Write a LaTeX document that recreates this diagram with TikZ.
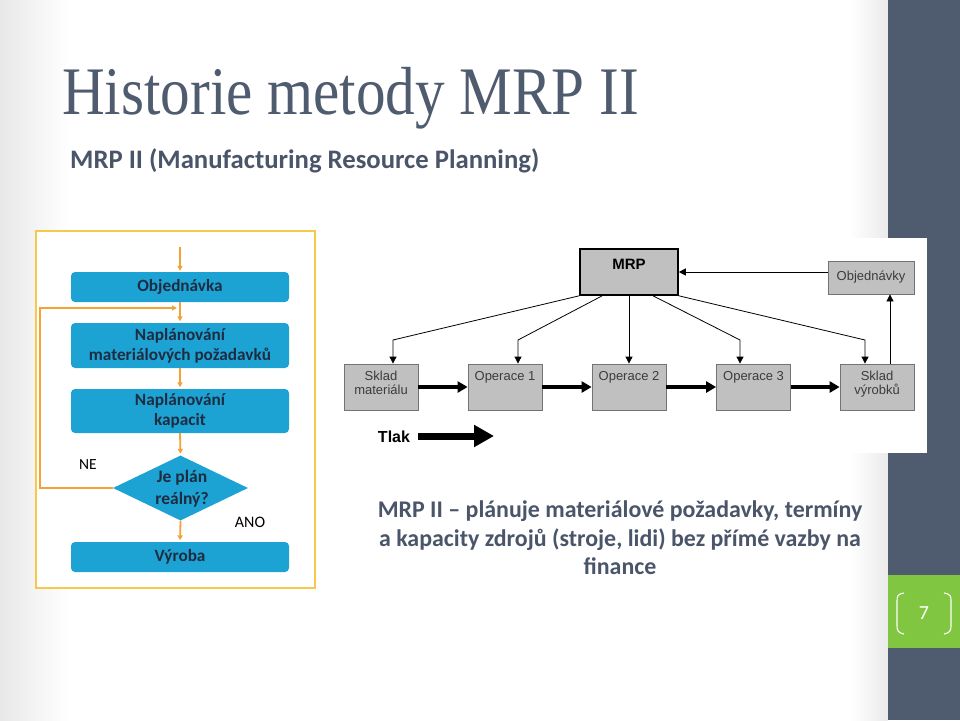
\documentclass[tikz,border=0pt]{standalone}
\usepackage{fontspec}
\setmainfont{Carlito}
\newfontfamily\titlefont{Liberation Serif}
\newfontfamily\arialfont{Liberation Sans}
\usetikzlibrary{arrows.meta,shapes.geometric}
\definecolor{slate}{HTML}{4F5B6E}
\definecolor{slatetext}{HTML}{4A5569}
\definecolor{fblue}{HTML}{1CA3D4}
\definecolor{ftext}{HTML}{1E2B40}
\definecolor{oarr}{HTML}{F4A236}
\definecolor{ybord}{HTML}{F7C84A}
\definecolor{lgreen}{HTML}{80C641}
\definecolor{boxgray}{HTML}{C0C0C0}
\definecolor{boxtext}{HTML}{3C3C3C}
\tikzset{
  flowbox/.style={rectangle, rounded corners=4pt, fill=fblue, text=ftext,
    font=\bfseries\fontsize{17.2}{20}\selectfont, align=center,
    minimum width=218pt, inner sep=0pt},
  oarrow/.style={draw=oarr, line width=1.8pt, -{Triangle[length=5pt,width=5pt]}},
  graybox/.style={rectangle, fill=boxgray, draw=black!55, line width=0.8pt,
    text=boxtext, font=\arialfont\fontsize{13}{14}\selectfont, align=center,
    minimum width=74pt, minimum height=46pt, inner xsep=1pt, inner ysep=0pt},
  onel/.style={text depth=23pt},
  twol/.style={text depth=9pt},
  thinarr/.style={draw=black, line width=0.8pt, -{Triangle[length=7pt,width=7pt]}},
  thickarr/.style={draw=black, line width=3.5pt, -{Triangle[length=10pt,width=11pt]}},
}
\begin{document}
\begin{tikzpicture}[x=1pt,y=-1pt]
\useasboundingbox (0,0) rectangle (960,720);
% background
\fill[white] (0,0) rectangle (960,720);
\shade[left color=black!9, right color=white] (0,0) rectangle (70,720);
\shade[left color=white, right color=black!8] (850,0) rectangle (888,720);
\fill[slate] (888,0) rectangle (960,720);
\fill[lgreen] (888,575) rectangle (960,648);
% page number
\node[text=white, font=\fontsize{20}{22}\selectfont] (pnum) at (924,613) {7};
\draw[white, line width=1.1pt] (904,593) .. controls (897,594) and (897,597) .. (897,601) -- (897,626) .. controls (897,630) and (898,633) .. (904,634);
\draw[white, line width=1.1pt] (944,593) .. controls (951,594) and (951,597) .. (951,601) -- (951,626) .. controls (951,630) and (950,633) .. (944,634);
% title
\node[anchor=base west, inner sep=0pt, text=slate, font=\titlefont\fontsize{68}{70}\selectfont] (title) at (62,114) {\scalebox{0.87}[1]{Historie metody MRP II}};
\node[anchor=base west, inner sep=0pt, text=slatetext, font=\bfseries\fontsize{26.7}{30}\selectfont] (sub) at (70,168) {MRP II (Manufacturing Resource Planning)};
% ---------- flowchart ----------
\draw[ybord, line width=1.5pt, fill=white] (36,231) rectangle (315,588);
\node[flowbox, minimum height=30pt] (obj) at (180,287) {Objednávka};
\node[flowbox, minimum height=45pt] (mat) at (180,345.5) {Naplánování\\materiálových požadavků};
\node[flowbox, minimum height=44pt] (kap) at (180,411) {Naplánování\\kapacit};
\node[diamond, fill=fblue, minimum width=135pt, minimum height=65pt, inner sep=0pt] (dec) at (180.5,488) {};
\node[text=ftext, font=\bfseries\fontsize{17.5}{22}\selectfont, align=center, inner sep=0pt] (dectext) at (182,489) {Je plán\\reálný?};
\node[flowbox, minimum height=30pt] (vyr) at (180,557) {Výroba};
\coordinate (start) at (180,247);
\coordinate (loopin) at (177,308);
\coordinate (nebend) at (40,308);
\draw[oarrow, shorten >=1pt] (start) -- (obj.north);
\draw[oarrow, shorten >=1.5pt] (obj.south) -- (mat.north);
\draw[oarrow, shorten >=1.5pt] (mat.south) -- (kap.north);
\draw[oarrow, shorten >=1.5pt] (kap.south) -- (dec.north);
\draw[oarrow, shorten >=1.5pt] (dec.south) -- (vyr.north);
\draw[oarrow] (dec.west) -| (nebend) -- (loopin);
\node[font=\fontsize{15.5}{17}\selectfont, text=black] (ne) at (88,465) {NE};
\node[font=\fontsize{16}{18}\selectfont, text=black] (ano) at (250,522) {ANO};
% ---------- right diagram ----------
\fill[white] (340,238) rectangle (927,453);
\node[rectangle, fill=boxgray, draw=black, line width=1.6pt, minimum width=98pt, minimum height=46pt,
  inner sep=0pt, text height=20pt, text depth=26pt,
  font=\arialfont\bfseries\fontsize{15}{17}\selectfont] (mrp) at (629,272) {MRP};
\node[graybox, minimum width=86pt, minimum height=33pt, text height=9pt, text depth=3pt] (objd) at (871,277.5) {Objednávky};
\node[graybox, twol] (skm) at (381,387) {Sklad\\materiálu};
\node[graybox, onel] (op1) at (505,387) {Operace 1};
\node[graybox, onel] (op2) at (629,387) {Operace 2};
\node[graybox, onel] (op3) at (753.5,387) {Operace 3};
\node[graybox, twol] (skv) at (877,387) {Sklad\\výrobků};
\coordinate (b1) at (393,340);
\coordinate (b2) at (518,340);
\coordinate (b4) at (740,340);
\coordinate (b5) at (865,340);
\draw[thinarr] (mrp.south west) -- (b1) -- (b1 |- skm.north);
\draw[thinarr] ([xshift=23pt]mrp.south west) -- (b2) -- (b2 |- op1.north);
\draw[thinarr] (mrp.south) -- (op2.north);
\draw[thinarr] ([xshift=24pt]mrp.south) -- (b4) -- (b4 |- op3.north);
\draw[thinarr] (mrp.south east) -- (b5) -- (b5 |- skv.north);
\draw[thinarr] (objd.west |- 0,272) -- (mrp.east |- 0,272);
\draw[thinarr] ([xshift=13pt]skv.north) -- ([xshift=13pt]skv.north |- objd.south);
\draw[thickarr] (skm.east) -- (op1.west);
\draw[thickarr] (op1.east) -- (op2.west);
\draw[thickarr] (op2.east) -- (op3.west);
\draw[thickarr] (op3.east) -- (skv.west);
\node[font=\arialfont\bfseries\fontsize{16}{18}\selectfont, text=black, inner sep=0pt] (tlak) at (394,437) {Tlak};
\coordinate (tlakend) at (494,436);
\draw[black, line width=7pt, -{Triangle[length=20pt,width=21pt]}] ([xshift=8pt]tlak.east |- tlakend) -- (tlakend);
% bottom text
\node[text=slatetext, font=\bfseries\fontsize{23.9}{28.5}\selectfont, align=center] (desc) at (620,538) {MRP II – plánuje materiálové požadavky, termíny\\a kapacity zdrojů (stroje, lidi) bez přímé vazby na\\finance};
\end{tikzpicture}
\end{document}
